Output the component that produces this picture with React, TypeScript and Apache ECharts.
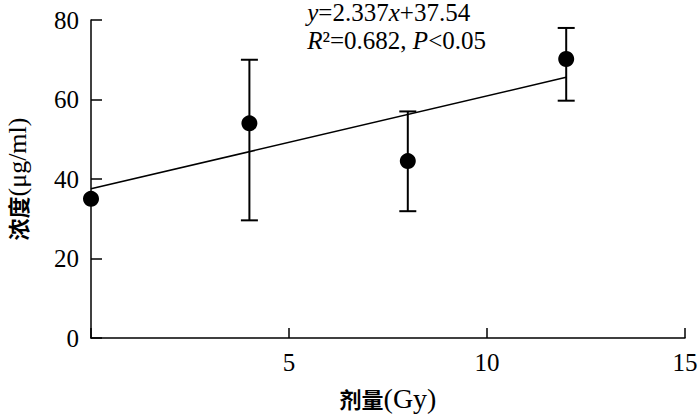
import React, { useEffect, useRef } from 'react';
import * as echarts from 'echarts';

const doses = [0, 4, 8, 12];
const means = [35, 54, 44.5, 70.2];
const lows = [35, 29.6, 31.9, 59.7];
const highs = [35, 70, 57, 78];
const slope = 2.337;
const intercept = 37.54;
const fitRange = [0, 12];
const xTickValues = [0, 5, 10, 15];
const yTickValues = [0, 20, 40, 60, 80];

const SERIF = 'Liberation Serif, serif';
const CJK = 'Noto Sans CJK SC, sans-serif';

export default function App() {
  const ref = useRef<HTMLDivElement>(null);
  useEffect(() => {
    if (!ref.current) return;
    const chart = echarts.init(ref.current, undefined, { renderer: 'svg' });
    const fitData = fitRange.map((x) => [x, +(slope * x + intercept).toFixed(3)]);
    const errData = doses.map((d, i) => [d, lows[i], highs[i]]);
    const pts = doses.map((d, i) => [d, means[i]]);
    chart.setOption({
      animation: false,
      grid: { left: 91, top: 20, right: 15, bottom: 78, containLabel: false, outerBoundsMode: 'none' },
      xAxis: {
        type: 'value',
        min: xTickValues[0],
        max: xTickValues[xTickValues.length - 1],
        interval: xTickValues[1] - xTickValues[0],
        splitLine: { show: false },
        axisLine: { lineStyle: { color: '#000', width: 1.5 } },
        axisTick: { inside: true, length: 10, lineStyle: { color: '#000', width: 1.5 } },
        axisLabel: {
          color: '#000',
          fontFamily: SERIF,
          fontSize: 25,
          margin: 12,
          formatter: (v: number) => (v === 0 ? '' : String(v)),
        },
        name: '{c|剂量}{s|(Gy)}',
        nameLocation: 'middle',
        nameGap: 46,
        nameTextStyle: {
          rich: {
            c: { fontFamily: CJK, fontWeight: 'bold', fontSize: 22, color: '#000' },
            s: { fontFamily: SERIF, fontSize: 28, color: '#000' },
          },
        },
      },
      yAxis: {
        type: 'value',
        min: yTickValues[0],
        max: yTickValues[yTickValues.length - 1],
        interval: yTickValues[1] - yTickValues[0],
        splitLine: { show: false },
        axisLine: { show: true, lineStyle: { color: '#000', width: 1.5 } },
        axisTick: { show: true, inside: true, length: 11, lineStyle: { color: '#000', width: 1.5 } },
        axisLabel: { color: '#000', fontFamily: SERIF, fontSize: 25, margin: 12 },
        name: '{c|浓度}{s|(μg/ml)}',
        nameLocation: 'middle',
        nameGap: 61,
        nameRotate: 90,
        nameTextStyle: {
          rich: {
            c: { fontFamily: CJK, fontWeight: 'bold', fontSize: 22, color: '#000' },
            s: { fontFamily: SERIF, fontSize: 26, color: '#000' },
          },
        },
      },
      graphic: [
        {
          type: 'text',
          right: 214,
          top: 0,
          style: {
            text: '{i|y}{n|=2.337}{i|x}{n|+37.54}\n{i|R}{n|²=0.682, }{i|P}{n|<0.05}',
            align: 'right',
            fill: '#000',
            rich: {
              i: { fontFamily: SERIF, fontStyle: 'italic', fontSize: 25, lineHeight: 28, fill: '#000' },
              n: { fontFamily: SERIF, fontSize: 25, lineHeight: 28, fill: '#000' },
            },
          },
        },
      ],
      series: [
        {
          type: 'line',
          data: fitData,
          symbol: 'none',
          lineStyle: { color: '#000', width: 1.6 },
          z: 2,
        },
        {
          type: 'custom',
          data: errData,
          clip: false,
          z: 3,
          renderItem: (params: any, api: any) => {
            const x = api.value(0);
            const lo = api.value(1);
            const hi = api.value(2);
            if (lo === hi) return { type: 'group', children: [] };
            const pLo = api.coord([x, lo]);
            const pHi = api.coord([x, hi]);
            const half = 8.5;
            const style = { stroke: '#000', lineWidth: 2 };
            return {
              type: 'group',
              children: [
                { type: 'line', shape: { x1: pLo[0], y1: pLo[1], x2: pHi[0], y2: pHi[1] }, style },
                { type: 'line', shape: { x1: pLo[0] - half, y1: pLo[1], x2: pLo[0] + half, y2: pLo[1] }, style },
                { type: 'line', shape: { x1: pHi[0] - half, y1: pHi[1], x2: pHi[0] + half, y2: pHi[1] }, style },
              ],
            };
          },
        },
        {
          type: 'scatter',
          data: pts,
          symbol: 'circle',
          symbolSize: 16,
          clip: false,
          itemStyle: { color: '#000', opacity: 1 },
          z: 4,
        },
      ],
    });
    return () => chart.dispose();
  }, []);
  return <div ref={ref} style={{ width: 700, height: 416, position: 'absolute', left: 0, top: 0 }} />;
}
